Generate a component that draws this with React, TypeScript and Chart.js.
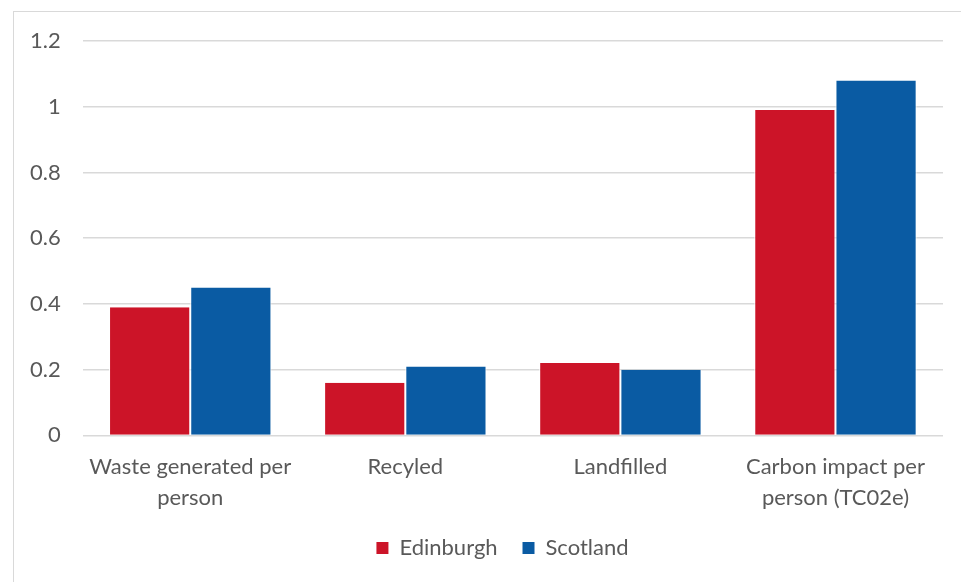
import React, { useEffect, useRef } from "react";
import { Chart, registerables } from "chart.js";

Chart.register(...registerables);

const categories: (string | string[])[] = [
  ["Waste generated per", "person"],
  "Recyled",
  "Landfilled",
  ["Carbon impact per", "person (TC02e)"],
];
const seriesNames = ["Edinburgh", "Scotland"];
const edinburgh = [0.39, 0.16, 0.22, 0.99];
const scotland = [0.45, 0.21, 0.2, 1.08];
const yTicks = [0, 0.2, 0.4, 0.6, 0.8, 1, 1.2];

const FONT = "Lato, 'Open Sans', sans-serif";
const TEXT = "#595959";

const legendShift = {
  id: "legendShift",
  afterLayout(chart: any) {
    if (chart.legend) {
      chart.legend.left += 27;
      chart.legend.right += 27;
    }
  },
};

export default function App() {
  const ref = useRef<HTMLCanvasElement>(null);
  useEffect(() => {
    if (!ref.current) return;
    const chart = new Chart(ref.current, {
      type: "bar",
      plugins: [legendShift],
      data: {
        labels: categories,
        datasets: [
          {
            label: seriesNames[0],
            data: edinburgh,
            backgroundColor: "#CC1428",
            borderColor: "#ffffff",
            borderWidth: { left: 1, right: 1, top: 0, bottom: 0 },
            categoryPercentage: 0.755,
            barPercentage: 1,
          },
          {
            label: seriesNames[1],
            data: scotland,
            backgroundColor: "#0A5BA3",
            borderColor: "#ffffff",
            borderWidth: { left: 1, right: 1, top: 0, bottom: 0 },
            categoryPercentage: 0.755,
            barPercentage: 1,
          },
        ],
      },
      options: {
        animation: false,
        responsive: true,
        maintainAspectRatio: false,
        layout: { padding: { left: 8, right: 18, top: 41, bottom: 13 } },
        plugins: {
          tooltip: { enabled: false },
          legend: {
            position: "bottom",
            labels: {
              boxWidth: 12,
              boxHeight: 12,
              padding: 8,
              color: TEXT,
              font: { family: FONT, size: 22 },
              generateLabels: (c: any) => {
                const items = Chart.defaults.plugins.legend.labels.generateLabels(c);
                items.forEach((it: any, i: number) => {
                  it.lineWidth = 0;
                  if (i === 0) it.text = it.text + "   ";
                });
                return items;
              },
            },
          },
        },
        scales: {
          x: {
            grid: { display: false, drawTicks: false },
            border: { display: false },
            ticks: {
              color: TEXT,
              font: { family: FONT, size: 22, lineHeight: 1.4 },
              padding: 16,
              maxRotation: 0,
              autoSkip: false,
            },
          },
          y: {
            min: 0,
            max: 1.2,
            afterBuildTicks: (axis: any) => {
              axis.ticks = yTicks.map((v) => ({ value: v }));
            },
            grid: { color: "#D9D9D9", lineWidth: 1.5, drawTicks: false },
            border: { display: false },
            ticks: {
              color: TEXT,
              font: { family: FONT, size: 22 },
              padding: 22,
              callback: (v: any) => String(Math.round(Number(v) * 10) / 10),
            },
          },
        },
      },
    });
    return () => chart.destroy();
  }, []);
  return (
    <div style={{ position: "fixed", left: 0, top: 0, width: 961, height: 582, overflow: "hidden", background: "#fff" }}>
      <div
        style={{
          position: "absolute",
          left: 13,
          top: 11,
          width: 960,
          height: 580,
          border: "1.5px solid #D9D9D9",
          boxSizing: "border-box",
        }}
      />
      <div style={{ position: "absolute", left: 0, top: 0, width: 961, height: 582 }}>
        <canvas ref={ref} />
      </div>
    </div>
  );
}
